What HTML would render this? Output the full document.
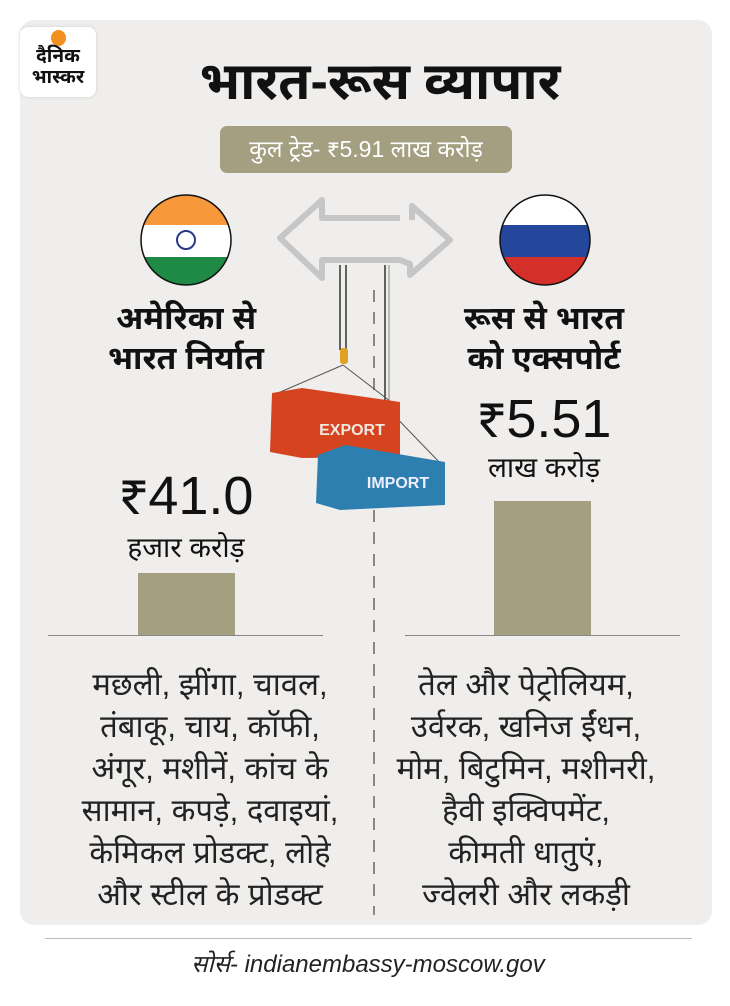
<!DOCTYPE html>
<html><head><meta charset="utf-8">
<style>
body{margin:0;width:730px;height:1006px;background:#fff;position:relative;overflow:hidden;font-family:"Liberation Sans","Noto Sans Devanagari","Lohit Devanagari",sans-serif;color:#111}
.card{position:absolute;left:20px;top:20px;width:692px;height:905px;background:#efeeec;border-radius:14px}
.abs{position:absolute;white-space:nowrap}
.c{transform:translateX(-50%);text-align:center}
.bar{position:absolute;background:#a39f80}
.line{position:absolute;height:1px;background:#888}
.list{position:absolute;font-size:31px;line-height:42px;text-align:center;transform:translateX(-50%);white-space:nowrap;color:#222}
</style></head><body>
<div class="card"></div>
<div class="abs" style="left:20px;top:27px;width:76px;height:70px;background:#fff;border-radius:8px;box-shadow:0 0 3px #ccc"></div>
<div class="abs" style="left:51px;top:30px;width:15px;height:16px;border-radius:50%;background:#f39120"></div>
<div class="abs c" style="left:58px;top:46px;font-size:19px;font-weight:bold;line-height:21px">दैनिक<br>भास्कर</div>
<div class="abs c" style="left:380px;top:52px;font-size:52px;font-weight:bold">भारत-रूस व्यापार</div>
<div class="abs" style="left:220px;top:126px;width:292px;height:47px;background:#a39f80;border-radius:7px;color:#fff;font-size:23px;line-height:47px;text-align:center">कुल ट्रेड- ₹5.91 लाख करोड़</div>
<svg class="abs" style="left:0;top:0" width="730" height="1006">
<defs><clipPath id="ci"><circle cx="186" cy="240" r="45"/></clipPath><clipPath id="cr"><circle cx="545" cy="240" r="45"/></clipPath></defs>
<g clip-path="url(#ci)"><rect x="140" y="195" width="92" height="30" fill="#f7983a"/><rect x="140" y="225" width="92" height="32" fill="#fff"/><rect x="140" y="257" width="92" height="30" fill="#1e8a46"/></g>
<circle cx="186" cy="240" r="45" fill="none" stroke="#111" stroke-width="1.5"/>
<circle cx="186" cy="240" r="9" fill="none" stroke="#2a3a8a" stroke-width="2"/>
<g clip-path="url(#cr)"><rect x="499" y="195" width="92" height="30" fill="#fff"/><rect x="499" y="225" width="92" height="32" fill="#24479c"/><rect x="499" y="257" width="92" height="30" fill="#d42f28"/></g>
<circle cx="545" cy="240" r="45" fill="none" stroke="#111" stroke-width="1.5"/>
<path d="M400 218 H322 V200 L280 238 L322 278 V260 H400 L410 264 V275 L450 240 L412 206 V220" fill="none" stroke="#c6c6c6" stroke-width="6" stroke-linejoin="round"/>
<line x1="374" y1="290" x2="374" y2="915" stroke="#888" stroke-width="2" stroke-dasharray="12,10"/>
<line x1="340" y1="265" x2="340" y2="350" stroke="#333" stroke-width="1.5"/><line x1="346" y1="265" x2="346" y2="350" stroke="#333" stroke-width="1.5"/>
<line x1="385" y1="265" x2="385" y2="400" stroke="#333" stroke-width="1.5"/><line x1="389" y1="265" x2="389" y2="400" stroke="#aaa" stroke-width="1.5"/>
<path d="M343 365 L278 393 M343 365 L395 405 M387 408 L330 460 M387 408 L442 465" stroke="#555" stroke-width="1"/>
<rect x="340" y="348" width="8" height="16" rx="3" fill="#e0a020"/>
<rect x="384" y="400" width="8" height="16" rx="3" fill="#e0a020"/>
<polygon points="272,393 302,388 400,402 400,457 302,458 270,452" fill="#d5441f"/>
<text x="352" y="435" text-anchor="middle" font-size="16" font-weight="bold" fill="#f3e8e0" font-family="Liberation Sans">EXPORT</text>
<polygon points="318,455 345,445 445,462 445,505 340,510 316,503" fill="#2d7fb0"/>
<text x="398" y="488" text-anchor="middle" font-size="16" font-weight="bold" fill="#eef" font-family="Liberation Sans">IMPORT</text>
</svg>
<div class="abs c" style="left:186px;top:298px;font-size:32px;font-weight:bold;line-height:40px">अमेरिका से<br>भारत निर्यात</div>
<div class="abs c" style="left:544px;top:298px;font-size:32px;font-weight:bold;line-height:40px">रूस से भारत<br>को एक्सपोर्ट</div>
<div class="abs c" style="left:544px;top:388px;font-size:54px;line-height:62px">₹5.51</div>
<div class="abs c" style="left:544px;top:452px;font-size:28px">लाख करोड़</div>
<div class="abs c" style="left:186px;top:465px;font-size:54px;line-height:62px">₹41.0</div>
<div class="abs c" style="left:186px;top:532px;font-size:28px">हजार करोड़</div>
<div class="bar" style="left:138px;top:573px;width:97px;height:62px"></div>
<div class="bar" style="left:494px;top:501px;width:97px;height:134px"></div>
<div class="line" style="left:48px;top:635px;width:275px"></div>
<div class="line" style="left:405px;top:635px;width:275px"></div>
<div class="list" style="left:210px;top:664px">मछली, झींगा, चावल,<br>तंबाकू, चाय, कॉफी,<br>अंगूर, मशीनें, कांच के<br>सामान, कपड़े, दवाइयां,<br>केमिकल प्रोडक्ट, लोहे<br>और स्टील के प्रोडक्ट</div>
<div class="list" style="left:526px;top:664px">तेल और पेट्रोलियम,<br>उर्वरक, खनिज ईंधन,<br>मोम, बिटुमिन, मशीनरी,<br>हैवी इक्विपमेंट,<br>कीमती धातुएं,<br>ज्वेलरी और लकड़ी</div>
<div class="line" style="left:45px;top:938px;width:647px;background:#bbb"></div>
<div class="abs c" style="left:368px;top:950px;font-size:24px;font-style:italic;color:#222">सोर्स- indianembassy-moscow.gov</div>
</body></html>
